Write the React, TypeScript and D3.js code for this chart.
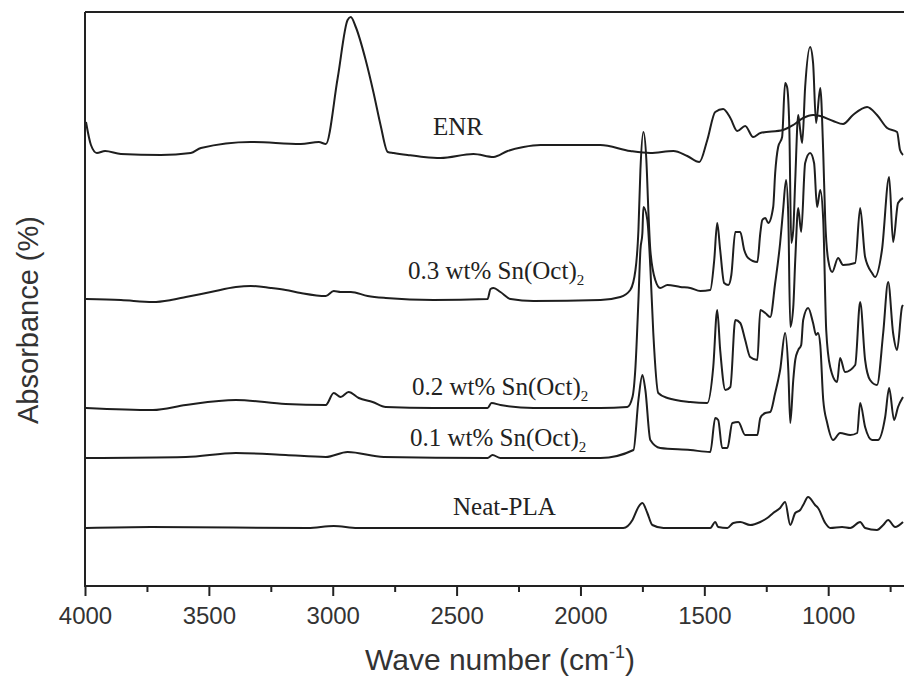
import React, { useEffect, useRef } from "react";
import * as d3 from "d3";

// Wavenumber (cm-1) and absorbance (a.u., stacked)
const enrWn = [3996, 3976, 3952, 3919, 3855, 3694, 3573, 3532, 3331, 3129, 3056, 3028, 2980, 2940, 2927, 2907, 2867, 2835, 2807, 2778, 2754, 2698, 2633, 2565, 2432, 2351, 2294, 2230, 2161, 1920, 1799, 1718, 1625, 1569, 1520, 1488, 1456, 1424, 1395, 1367, 1335, 1303, 1274, 1182, 1141, 1101, 1061, 1032, 980, 940, 900, 843, 803, 762, 722, 710, 698];
const enrAbs = [4.64, 4.41, 4.33, 4.35, 4.32, 4.31, 4.33, 4.38, 4.44, 4.42, 4.44, 4.42, 5.08, 5.66, 5.69, 5.59, 5.26, 4.93, 4.61, 4.34, 4.33, 4.31, 4.29, 4.28, 4.32, 4.29, 4.35, 4.39, 4.41, 4.41, 4.35, 4.33, 4.35, 4.30, 4.24, 4.46, 4.74, 4.77, 4.68, 4.55, 4.60, 4.49, 4.53, 4.56, 4.61, 4.68, 4.71, 4.70, 4.65, 4.62, 4.71, 4.79, 4.71, 4.58, 4.54, 4.36, 4.31];

const sn03Wn = [3996, 3855, 3726, 3653, 3593, 3492, 3391, 3331, 3250, 3190, 3129, 3028, 2996, 2968, 2927, 2859, 2786, 2593, 2375, 2363, 2351, 2323, 2282, 2190, 1919, 1839, 1799, 1778, 1766, 1758, 1746, 1734, 1726, 1718, 1698, 1678, 1649, 1597, 1557, 1516, 1476, 1460, 1448, 1436, 1420, 1403, 1391, 1375, 1355, 1339, 1323, 1286, 1274, 1266, 1254, 1242, 1222, 1214, 1202, 1186, 1174, 1166, 1157, 1149, 1141, 1133, 1121, 1113, 1105, 1093, 1073, 1061, 1049, 1032, 1020, 1012, 1000, 984, 960, 940, 891, 871, 851, 823, 811, 783, 754, 738, 718, 698];
const sn03Abs = [2.87, 2.86, 2.84, 2.86, 2.89, 2.94, 2.99, 3.00, 2.98, 2.96, 2.93, 2.90, 2.95, 2.94, 2.94, 2.90, 2.88, 2.86, 2.87, 2.97, 2.98, 2.94, 2.87, 2.85, 2.86, 2.89, 2.96, 3.16, 3.56, 4.16, 4.54, 4.26, 3.76, 3.36, 3.06, 2.98, 3.01, 2.99, 2.98, 2.95, 2.96, 3.26, 3.63, 3.36, 3.03, 3.01, 3.11, 3.54, 3.54, 3.36, 3.28, 3.24, 3.53, 3.66, 3.68, 3.63, 3.79, 4.13, 4.39, 4.49, 5.03, 4.99, 4.59, 3.43, 3.56, 4.06, 4.71, 4.56, 4.43, 4.99, 5.39, 5.23, 4.63, 4.98, 4.33, 3.66, 3.26, 3.14, 3.28, 3.21, 3.23, 3.78, 3.29, 3.13, 3.09, 3.36, 4.09, 3.44, 3.83, 3.88];

const sn02Wn = [3996, 3726, 3593, 3391, 3190, 3028, 2996, 2968, 2936, 2895, 2839, 2786, 2593, 2375, 2359, 2323, 2190, 1919, 1811, 1790, 1778, 1766, 1758, 1750, 1746, 1730, 1718, 1706, 1686, 1649, 1557, 1488, 1464, 1448, 1436, 1415, 1395, 1375, 1355, 1335, 1315, 1286, 1274, 1254, 1234, 1214, 1194, 1182, 1170, 1161, 1153, 1141, 1133, 1121, 1109, 1093, 1073, 1057, 1045, 1032, 1020, 1008, 992, 964, 952, 932, 891, 871, 851, 831, 803, 778, 758, 738, 722, 702, 698];
const sn02Abs = [1.78, 1.76, 1.81, 1.86, 1.82, 1.81, 1.93, 1.89, 1.94, 1.88, 1.84, 1.79, 1.78, 1.78, 1.83, 1.81, 1.78, 1.78, 1.79, 1.89, 2.19, 2.86, 3.36, 3.53, 3.79, 3.66, 3.19, 2.53, 1.93, 1.88, 1.84, 1.83, 2.19, 2.76, 2.36, 1.96, 1.99, 2.66, 2.63, 2.46, 2.29, 2.26, 2.76, 2.73, 2.69, 3.03, 3.43, 3.76, 4.06, 3.69, 2.59, 2.79, 3.26, 3.78, 3.54, 4.23, 4.33, 4.23, 3.79, 3.96, 3.66, 2.56, 2.19, 2.04, 2.28, 2.14, 2.21, 2.84, 2.26, 2.06, 2.01, 2.53, 3.04, 2.53, 2.36, 2.79, 2.81];

const sn01Wn = [3996, 3593, 3391, 3190, 3028, 2940, 2794, 2375, 2355, 2323, 1919, 1786, 1766, 1750, 1738, 1718, 1678, 1557, 1476, 1456, 1444, 1428, 1407, 1387, 1363, 1335, 1286, 1274, 1254, 1234, 1214, 1202, 1194, 1174, 1161, 1153, 1141, 1133, 1121, 1109, 1101, 1081, 1061, 1049, 1041, 1032, 1020, 1004, 980, 952, 911, 883, 871, 851, 823, 799, 770, 754, 734, 718, 698];
const sn01Abs = [1.28, 1.29, 1.33, 1.31, 1.29, 1.34, 1.29, 1.28, 1.31, 1.28, 1.28, 1.36, 1.86, 2.11, 1.96, 1.46, 1.38, 1.36, 1.34, 1.68, 1.66, 1.38, 1.38, 1.63, 1.64, 1.51, 1.51, 1.68, 1.73, 1.74, 1.93, 2.06, 2.16, 2.53, 2.16, 1.63, 2.06, 2.26, 2.36, 2.41, 2.66, 2.78, 2.63, 2.51, 2.53, 2.41, 1.86, 1.63, 1.46, 1.53, 1.51, 1.53, 1.83, 1.59, 1.46, 1.46, 1.69, 1.98, 1.66, 1.79, 1.89];

const plaWn = [3996, 3734, 3100, 2996, 2900, 2524, 1827, 1790, 1766, 1750, 1730, 1710, 1665, 1476, 1456, 1444, 1407, 1383, 1355, 1315, 1274, 1246, 1222, 1194, 1174, 1153, 1133, 1113, 1101, 1081, 1053, 1041, 1012, 992, 944, 911, 871, 851, 803, 778, 758, 730, 698];
const plaAbs = [0.58, 0.59, 0.58, 0.60, 0.58, 0.58, 0.58, 0.66, 0.79, 0.83, 0.73, 0.61, 0.58, 0.58, 0.64, 0.59, 0.58, 0.63, 0.64, 0.61, 0.64, 0.68, 0.73, 0.78, 0.84, 0.61, 0.73, 0.76, 0.81, 0.89, 0.81, 0.78, 0.63, 0.58, 0.59, 0.58, 0.64, 0.58, 0.56, 0.61, 0.66, 0.59, 0.64];

const majorTicks = [4000, 3500, 3000, 2500, 2000, 1500, 1000];
const minorTicks = [3750, 3250, 2750, 2250, 1750, 1250, 750];

const W = 904;
const H = 680;
const L = 85;
const R = 904;
const T = 12;
const B = 586;

export default function App() {
  const axisRef = useRef<SVGGElement>(null);
  const x = d3.scaleLinear().domain([4000, 694]).range([L, R]);
  const y = d3.scaleLinear().domain([0, 5.74]).range([B, T]);

  const line = d3
    .line<[number, number]>()
    .x((d) => x(d[0]))
    .y((d) => y(d[1]))
    .curve(d3.curveMonotoneX);

  const series = [
    { wn: enrWn, a: enrAbs },
    { wn: sn03Wn, a: sn03Abs },
    { wn: sn02Wn, a: sn02Abs },
    { wn: sn01Wn, a: sn01Abs },
    { wn: plaWn, a: plaAbs },
  ].map((s) => s.wn.map((w, i) => [w, s.a[i]] as [number, number]));

  useEffect(() => {
    if (!axisRef.current) return;
    const g = d3.select(axisRef.current);
    g.selectAll("*").remove();
    const major = g
      .append("g")
      .attr("transform", `translate(0,${B})`)
      .call(d3.axisBottom(x).tickValues(majorTicks).tickSize(10).tickSizeOuter(0).tickFormat(d3.format("d")));
    major.select(".domain").remove();
    major.selectAll("line").attr("stroke", "#222").attr("stroke-width", 2);
    major
      .selectAll("text")
      .attr("fill", "#333")
      .attr("font-family", "Liberation Sans, Arial, sans-serif")
      .attr("font-size", 24)
      .attr("dy", "0")
      .attr("y", 38);
    const minor = g
      .append("g")
      .attr("transform", `translate(0,${B})`)
      .call(d3.axisBottom(x).tickValues(minorTicks).tickSize(6).tickSizeOuter(0).tickFormat(() => ""));
    minor.select(".domain").remove();
    minor.selectAll("line").attr("stroke", "#222").attr("stroke-width", 2);
  }, []);

  const labelStyle = {
    fontFamily: "Liberation Serif, Times New Roman, serif",
    fontSize: 25,
    fill: "#222",
  } as React.CSSProperties;

  const snLabel = (txt: string, lx: number, ly: number) => (
    <text x={lx} y={ly} style={labelStyle}>
      {txt}
      <tspan dy={6} fontSize={15}>2</tspan>
    </text>
  );

  return (
    <svg width={W} height={H} style={{ position: "absolute", left: 0, top: 0, background: "#fff" }}>
      <rect x={0} y={0} width={W} height={H} fill="#fff" />
      <defs>
        <clipPath id="plotClip">
          <rect x={L} y={T - 4} width={R - L} height={B - T + 4} />
        </clipPath>
      </defs>
      <g clipPath="url(#plotClip)">
        {series.map((s, i) => (
          <path key={i} d={line(s) || ""} fill="none" stroke="#1e1e1e" strokeWidth={2} strokeLinejoin="round" />
        ))}
      </g>
      <line x1={L} x2={R} y1={T} y2={T} stroke="#222" strokeWidth={2} />
      <line x1={L} x2={L} y1={T} y2={B} stroke="#222" strokeWidth={2} />
      <line x1={L - 1} x2={R} y1={B} y2={B} stroke="#222" strokeWidth={2} />
      <g ref={axisRef} />
      <text x={433} y={135} style={labelStyle}>ENR</text>
      {snLabel("0.3 wt% Sn(Oct)", 408, 279)}
      {snLabel("0.2 wt% Sn(Oct)", 412, 395)}
      {snLabel("0.1 wt% Sn(Oct)", 410, 446)}
      <text x={453} y={515} style={labelStyle}>Neat-PLA</text>
      <text
        x={500}
        y={670}
        textAnchor="middle"
        style={{ fontFamily: "Liberation Sans, Arial, sans-serif", fontSize: 30, fill: "#333" }}
      >
        Wave number (cm
        <tspan dy={-12} fontSize={18}>-1</tspan>
        <tspan dy={12}>)</tspan>
      </text>
      <text
        transform="translate(38,320) rotate(-90)"
        textAnchor="middle"
        style={{ fontFamily: "Liberation Sans, Arial, sans-serif", fontSize: 29, fill: "#333" }}
      >
        Absorbance (%)
      </text>
    </svg>
  );
}
